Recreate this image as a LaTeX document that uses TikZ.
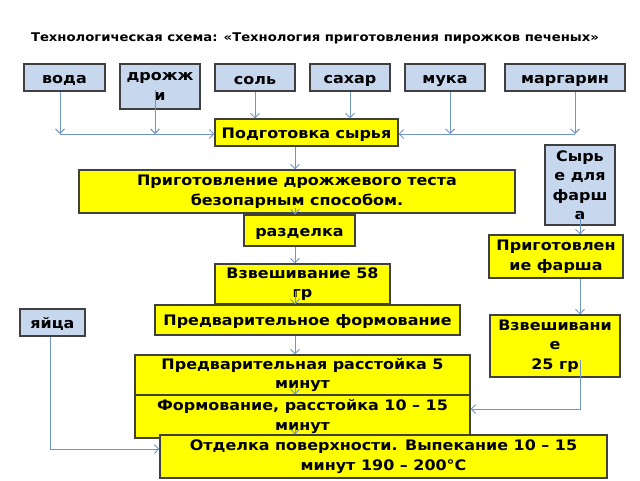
\documentclass[tikz,border=0pt]{standalone}
\usepackage{fontspec}
\setmainfont{DejaVu Sans}[FakeStretch=1.1]
\usetikzlibrary{arrows.meta}

\definecolor{boxline}{RGB}{64,64,64}
\definecolor{rawfill}{RGB}{198,215,238}
\definecolor{stepfill}{RGB}{255,255,0}
\definecolor{flowline}{RGB}{110,148,200}

\tikzset{
  stepbox/.style={draw=boxline, line width=1.2pt, fill=stepfill, inner sep=0pt, align=center,
    font=\fontsize{14.5}{19.5}\selectfont\bfseries, execute at begin node={\rule{0pt}{14.5pt}}},
  rawbox/.style={stepbox, fill=rawfill},
  flow/.style={draw=flowline, line width=0.9pt}
}

\begin{document}
\begin{tikzpicture}[x=1pt, y=-1pt, >={Straight Barb[length=4.5pt, width=9pt]}]
  \useasboundingbox (0,0) rectangle (640,480);

  % Title
  \node[font=\fontsize{12}{14}\selectfont\bfseries] (title) at (315,38.5)
    {Технологическая схема: «Технология приготовления пирожков печеных»};

  % Raw materials
  \node[rawbox, minimum width=81, minimum height=27] (voda) at (64.5,77.5) {вода};
  \node[rawbox, minimum width=80, minimum height=45] (drozh) at (160,86.5) {дрожж\\и};
  \node[rawbox, minimum width=80, minimum height=27] (sol) at (255,77.5) {соль};
  \node[rawbox, minimum width=80, minimum height=27] (sahar) at (350,77.5) {сахар};
  \node[rawbox, minimum width=80, minimum height=27] (muka) at (445,77.5) {мука};
  \node[rawbox, minimum width=120, minimum height=27] (margarin) at (565,77.5) {маргарин};
  \node[rawbox, minimum width=70, minimum height=80] (syrye) at (580,185) {Сырь\\е для\\фарш\\а};
  \node[rawbox, minimum width=65, minimum height=27] (yaica) at (52.5,322.5) {яйца};

  % Steps
  \node[stepbox, minimum width=183, minimum height=27] (podg) at (306.5,132.5) {Подготовка сырья};
  \node[stepbox, minimum width=436, minimum height=43] (testo) at (297,191.5)
    {Приготовление дрожжевого теста\\безопарным способом.};
  \node[stepbox, minimum width=111, minimum height=31] (razd) at (299.5,230.5) {разделка};
  \node[stepbox, minimum width=175, minimum height=40] (vzv58) at (302.5,284) {Взвешивание 58\\гр};
  \node[stepbox, minimum width=305, minimum height=30] (predform) at (307.5,320) {Предварительное формование};
  \node[stepbox, minimum width=335, minimum height=40] (rasst) at (302.5,375)
    {Предварительная расстойка 5\\минут};
  \node[stepbox, minimum width=335, minimum height=43] (form) at (302.5,416.5)
    {Формование, расстойка 10 – 15\\минут};
  \node[stepbox, minimum width=447, minimum height=43] (otdelka) at (383.5,456.5)
    {Отделка поверхности. Выпекание 10 – 15\\минут 190 – 200°C};
  \node[stepbox, minimum width=134, minimum height=43] (farsh) at (556,256.5) {Приготовлен\\ие фарша};
  \node[stepbox, minimum width=130, minimum height=62] (vzv25) at (555,346) {Взвешивани\\е\\25 гр};

  % Junctions
  \coordinate (axis) at (295,0);
  \coordinate (jleft) at (60,134);
  \coordinate (jright) at (575,134);
  \coordinate (jfarsh) at (580,409);
  \coordinate (jegg) at (50,449);

  % Into preparation
  \draw[flow, ->] ([xshift=-4.5pt]voda.south) -- (jleft);
  \draw[flow, ->] ([xshift=-5pt, yshift=-3.5pt]drozh.center) -- ([xshift=-5pt]drozh.center |- jleft);
  \draw[flow, ->] (jleft) -- (jleft -| podg.west);
  \draw[flow, ->] (sol.south) -- (sol.south |- podg.north);
  \draw[flow, ->] (sahar.south) -- (sahar.south |- podg.north);
  \draw[flow, ->] ([xshift=5pt]muka.south) -- ([xshift=5pt]muka.south |- jright);
  \draw[flow, ->] ([xshift=10pt]margarin.south) -- (jright);
  \draw[flow, ->] (jright) -- (jright -| podg.east);

  % Main line
  \draw[flow, ->] (podg.south -| axis) -- (testo.north -| axis);
  \draw[flow, ->] ([yshift=6pt]testo.south -| axis) -- (razd.north -| axis);
  \draw[flow, ->] (razd.south -| axis) -- (vzv58.north -| axis);
  \draw[flow, ->] ([yshift=14pt]vzv58.south -| axis) -- (predform.north -| axis);
  \draw[flow, ->] (predform.south -| axis) -- (rasst.north -| axis);
  \draw[flow, ->] ([yshift=12pt]rasst.south -| axis) -- (form.north -| axis);
  \draw[flow, ->] ([yshift=13pt]form.south -| axis) -- (otdelka.north -| axis);

  % Filling
  \draw[flow, ->] ([yshift=13pt]syrye.south) -- (syrye.south |- farsh.north);
  \draw[flow, ->] (syrye.south |- farsh.south) -- (syrye.south |- vzv25.north);
  \draw[flow, ->] ([yshift=-14pt]vzv25.center -| syrye.south) -- (jfarsh) -- (jfarsh -| form.east);

  % Eggs
  \draw[flow, ->] ([xshift=-2.5pt]yaica.south) -- (jegg) -- (jegg -| otdelka.west);
\end{tikzpicture}
\end{document}
